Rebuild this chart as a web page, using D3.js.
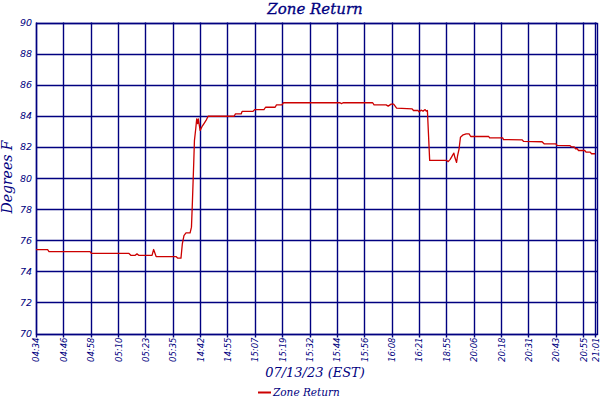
<!DOCTYPE html>
<html>
<head>
<meta charset="utf-8">
<script src="https://cdn.jsdelivr.net/npm/d3@7"></script>
<style>
  html, body { margin: 0; padding: 0; background: #fff; }
  svg { display: block; }
</style>
</head>
<body>
<svg id="chart" width="600" height="400"></svg>
<script>
// ---- data ----
const chartTitle = "Zone Return";
const xTitle = "07/13/23 (EST)";
const yTitle = "Degrees F";
const seriesName = "Zone Return";

// x tick labels and the sample index each one sits at
const tickLabels = ["04:34","04:46","04:58","05:10","05:23","05:35","14:42","14:55","15:07","15:19",
  "15:32","15:44","15:56","16:08","16:21","18:55","20:06","20:18","20:31","20:43","20:55","21:01"];
const tickSamples = [0,12,24,36,48,60,72,84,96,108,120,132,144,156,168,180,192,204,216,228,240,245.3];
const yTicks = [70,72,74,76,78,80,82,84,86,88,90];

// sample index and temperature (deg F)
const sampleIdx = [0,5.1,5.7,23.7,24.3,40.8,41.7,43.4,44.3,45.2,50.9,51.6,52.7,61.4,62.1,63.6,
  64.2,64.9,65.8,67.6,68.2,68.6,69.2,69.5,70.1,70.5,70.9,71.2,72.0,72.8,73.7,74.6,75.5,86.9,87.5,
  90.0,90.4,95.2,95.9,100.0,100.7,104.9,105.5,107.9,108.6,133.4,134.0,134.7,147.7,148.3,153.6,
  154.5,155.8,156.9,158.2,165.0,165.6,167.6,168.0,168.9,169.8,170.7,171.2,171.7,172.7,180.2,180.8,
  181.7,183.3,183.8,184.5,184.9,185.6,186.2,187.4,188.7,190.0,190.7,198.6,199.0,204.7,205.1,213.3,
  213.9,222.0,222.9,228.0,228.6,234.3,235.0,236.1,236.7,237.4,238.0,240.7,241.3,243.1,243.7,245.3];
const temps = [75.4,75.4,75.27,75.27,75.15,75.15,75.02,75.02,75.12,75.02,75.02,75.4,74.95,74.95,74.85,74.85,
  75.77,76.3,76.47,76.47,76.84,78.4,81.0,82.4,83.2,83.8,83.5,83.8,83.06,83.3,83.5,83.7,83.97,83.97,84.12,
  84.12,84.28,84.28,84.4,84.4,84.55,84.55,84.7,84.7,84.84,84.84,84.78,84.84,84.84,84.7,84.7,
  84.62,84.75,84.75,84.5,84.45,84.34,84.34,84.25,84.36,84.3,84.4,84.3,84.34,81.13,81.13,81.05,
  81.2,81.6,81.3,81.0,81.4,81.88,82.62,82.78,82.84,82.84,82.67,82.67,82.58,82.58,82.47,82.45,
  82.35,82.33,82.2,82.2,82.1,82.08,82.0,82.0,81.88,81.88,81.77,81.77,81.66,81.66,81.56,81.56];

// ---- layout ----
const navy = "#000080";
const red = "#cc0000";
const margin = {left: 36, top: 22.5, right: 3, bottom: 66.5};
const W = 600, H = 400;
const svg = d3.select("#chart");

const x = d3.scaleLinear().domain([0, 246.1]).range([margin.left, W - margin.right]);
const y = d3.scaleLinear().domain([70, 90]).range([H - margin.bottom, margin.top]);

// grid lines
const g = svg.append("g");
g.selectAll("line.h").data(yTicks).join("line")
  .attr("x1", x.range()[0]).attr("x2", x.range()[1])
  .attr("y1", d => Math.round(y(d)) + 0.5).attr("y2", d => Math.round(y(d)) + 0.5)
  .attr("stroke", navy).attr("stroke-width", 1.4);
g.selectAll("line.v").data(tickSamples).join("line")
  .attr("x1", d => Math.round(x(d)) + 0.5).attr("x2", d => Math.round(x(d)) + 0.5)
  .attr("y1", y.range()[1]).attr("y2", y.range()[0] + 4)
  .attr("stroke", navy).attr("stroke-width", 1.4);
// frame
g.append("rect")
  .attr("x", x.range()[0] + 0.5).attr("y", Math.round(y(90)) + 0.5)
  .attr("width", x.range()[1] - x.range()[0]).attr("height", Math.round(y(70)) - Math.round(y(90)))
  .attr("fill", "none").attr("stroke", navy).attr("stroke-width", 1.4);

// y axis labels
const yAxis = d3.axisLeft(y).tickValues(yTicks).tickSize(0).tickPadding(4);
svg.append("g").attr("transform", `translate(${margin.left},0)`).call(yAxis)
  .call(s => s.select(".domain").remove())
  .selectAll("text")
  .attr("fill", navy).attr("font-family", "'DejaVu Sans', sans-serif")
  .attr("font-style", "italic").attr("font-size", 9.5);

// x axis labels
const xAxis = d3.axisBottom(x).tickValues(tickSamples)
  .tickFormat((d, i) => tickLabels[i]).tickSize(0);
svg.append("g").attr("transform", `translate(0,${y(70)})`).call(xAxis)
  .call(s => s.select(".domain").remove())
  .selectAll("text")
  .attr("fill", navy).attr("font-family", "'DejaVu Sans', sans-serif")
  .attr("font-style", "italic").attr("font-size", 8.5)
  .attr("text-anchor", "end")
  .attr("transform", "rotate(-90)")
  .attr("x", -4).attr("y", 0).attr("dy", "0.35em");

// data line
const line = d3.line().x((d, i) => x(sampleIdx[i])).y(d => y(d));
svg.append("path").datum(temps)
  .attr("d", line).attr("fill", "none")
  .attr("stroke", red).attr("stroke-width", 1.3).attr("stroke-linejoin", "round");

// titles
const serif = "'DejaVu Serif', serif";
svg.append("text").attr("x", 315).attr("y", 14)
  .attr("text-anchor", "middle").attr("fill", navy)
  .attr("font-family", serif).attr("font-style", "italic").attr("font-size", 15)
  .attr("stroke", navy).attr("stroke-width", 0.3)
  .text(chartTitle);
svg.append("text").attr("x", 315).attr("y", 377)
  .attr("text-anchor", "middle").attr("fill", navy)
  .attr("font-family", serif).attr("font-style", "italic").attr("font-size", 13)
  .text(xTitle);
svg.append("text").attr("transform", "translate(12,177) rotate(-90)")
  .attr("text-anchor", "middle").attr("fill", navy)
  .attr("font-family", serif).attr("font-style", "italic").attr("font-size", 14)
  .text(yTitle);

// legend
svg.append("line").attr("x1", 258).attr("x2", 271).attr("y1", 392.5).attr("y2", 392.5)
  .attr("stroke", red).attr("stroke-width", 2);
svg.append("text").attr("x", 273).attr("y", 396)
  .attr("fill", navy).attr("font-family", serif).attr("font-style", "italic").attr("font-size", 10.5)
  .text(seriesName);
</script>
</body>
</html>
